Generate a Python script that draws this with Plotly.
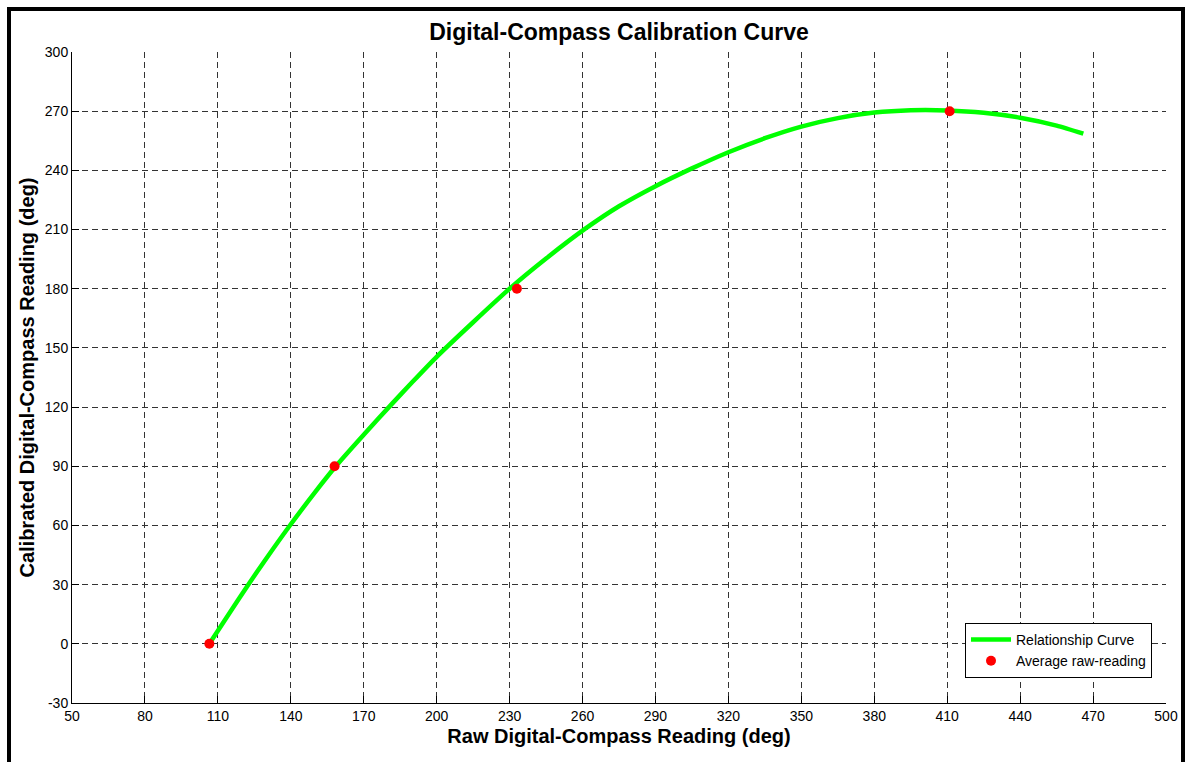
import plotly.graph_objects as go

# Relationship curve
curve_x = [106.5, 115, 122.5, 130, 140, 150, 158.5, 170, 181.5, 190, 200, 215, 230, 245,
           261, 275, 290, 305, 320, 335, 350, 365, 380, 395, 410, 425, 440, 455, 466]
curve_y = [0, 16, 30, 43.4, 60.6, 76.9, 90, 106, 121.5, 132.7, 145.5, 163, 180, 195.3,
           210.3, 221.8, 232, 241, 249.2, 256.3, 262.2, 266.5, 269.3, 270.5, 270.4,
           269.2, 266.7, 262.7, 258.6]

# Average raw readings
avg_x = [106.5, 158, 233, 411]
avg_y = [0, 90, 180, 270]

x_ticks = list(range(50, 501, 30))
y_ticks = list(range(-30, 301, 30))

W, H = 1191, 762
L, R, T, B = 72, 25, 52, 59
pw, ph = W - L - R, H - T - B

def px_x(px):
    return (px - L) / pw

def px_y(py):
    return (H - B - py) / ph

font_family = "Liberation Sans, Arial, sans-serif"

fig = go.Figure()
fig.add_trace(go.Scatter(
    x=curve_x, y=curve_y, mode="lines", name="Relationship Curve",
    line=dict(color="#00FF00", width=4.5, shape="spline", smoothing=0.6),
))
fig.add_trace(go.Scatter(
    x=avg_x, y=avg_y, mode="markers", name="Average raw-reading",
    marker=dict(color="#FF0000", size=10, line=dict(width=0)),
))

axis_common = dict(
    showgrid=True, gridcolor="#333333", gridwidth=1, griddash="6px,4px",
    zeroline=False, showline=True, linecolor="black", linewidth=1,
    ticks="inside", ticklen=7, tickcolor="black",
    tickfont=dict(family=font_family, size=14, color="black"),
)

fig.update_xaxes(
    range=[50, 500], tickvals=x_ticks, ticktext=[str(v) for v in x_ticks],
    title=dict(text="<b>Raw Digital-Compass Reading (deg)</b>",
               font=dict(family=font_family, size=20, color="black"), standoff=6),
    **axis_common,
)
fig.update_yaxes(
    range=[-30, 300], tickvals=y_ticks, ticktext=[str(v) for v in y_ticks],
    title=dict(text="<b>Calibrated Digital-Compass Reading (deg)</b>",
               font=dict(family=font_family, size=20, color="black"), standoff=4),
    **axis_common,
)

fig.update_layout(
    width=W, height=H, autosize=False,
    margin=dict(l=L, r=R, t=T, b=B, autoexpand=False),
    paper_bgcolor="white", plot_bgcolor="white",
    title=dict(text="<b>Digital-Compass Calibration Curve</b>",
               font=dict(family=font_family, size=23, color="black"),
               x=0.5, xref="paper", xanchor="center",
               y=1 - 32 / H, yref="container", yanchor="middle"),
    legend=dict(
        x=px_x(1152), y=px_y(678), xanchor="right", yanchor="bottom",
        bgcolor="white", bordercolor="black", borderwidth=1,
        font=dict(family=font_family, size=14, color="black"),
        tracegroupgap=0, itemwidth=40,
    ),
    showlegend=True,
)

# Outer figure frame
fig.add_shape(
    type="rect", xref="paper", yref="paper",
    x0=px_x(9), x1=px_x(1183), y0=px_y(775), y1=px_y(9),
    line=dict(color="black", width=4), fillcolor="rgba(0,0,0,0)", layer="above",
)

fig.write_html("out.html")
